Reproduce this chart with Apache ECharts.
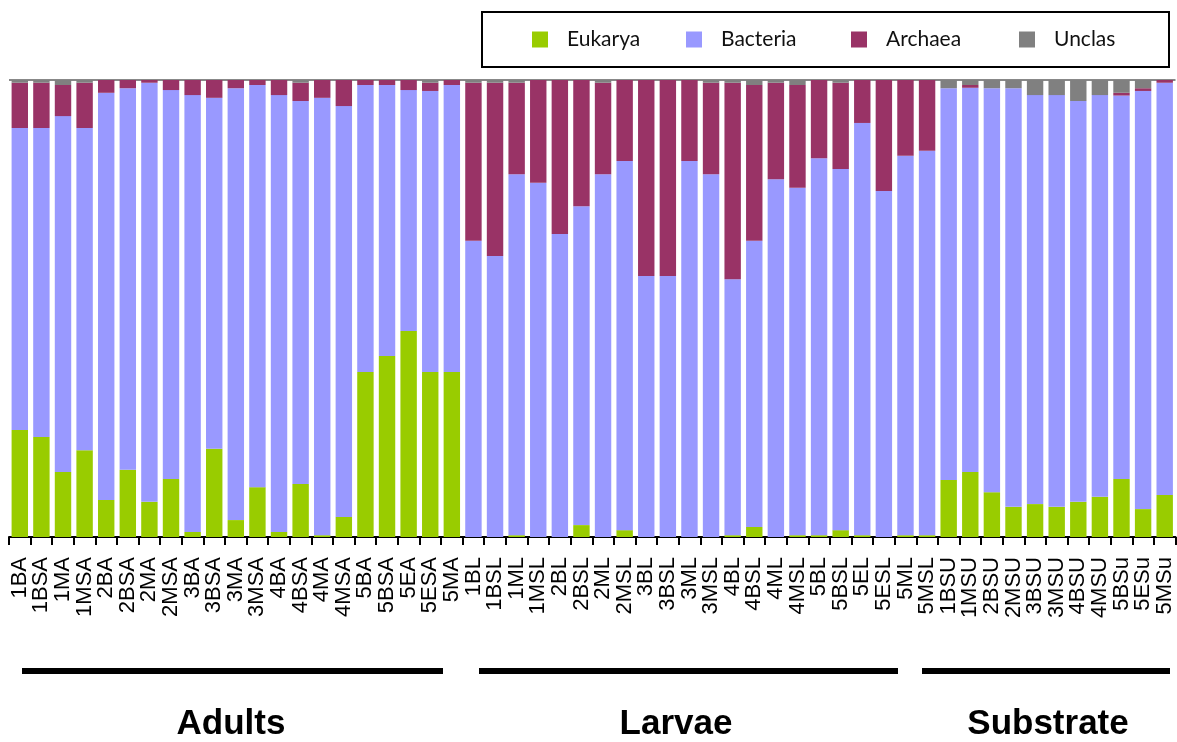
<!DOCTYPE html>
<html>
<head>
<meta charset="utf-8">
<title>Eukarya / Bacteria / Archaea composition</title>
<script src="https://cdn.jsdelivr.net/npm/echarts@6/dist/echarts.min.js"></script>
<style>
  html, body { margin: 0; padding: 0; background: #fff; }
  #chart { width: 1177px; height: 742px; }
</style>
</head>
<body>
<div id="chart"></div>
<script>
// Sample names, grouped as Adults (21), Larvae (22) and Substrate (11)
const categories = ['1BA','1BSA','1MA','1MSA','2BA','2BSA','2MA','2MSA','3BA','3BSA','3MA','3MSA','4BA','4BSA','4MA','4MSA','5BA','5BSA','5EA','5ESA','5MA',
  '1BL','1BSL','1ML','1MSL','2BL','2BSL','2ML','2MSL','3BL','3BSL','3ML','3MSL','4BL','4BSL','4ML','4MSL','5BL','5BSL','5EL','5ESL','5ML','5MSL',
  '1BSU','1MSU','2BSU','2MSU','3BSU','3MSU','4BSU','4MSU','5BSu','5ESu','5MSu'];

// Relative abundance (%) per domain
const eukarya = [23.4,21.9,14.2,19.0,8.1,14.7,7.7,12.7,1.1,19.3,3.7,10.9,1.1,11.6,0.4,4.4,36.1,39.6,45.1,36.1,36.1,
  0,0,0.4,0,0,2.6,0,1.5,0,0,0,0,0.4,2.2,0,0.4,0.4,1.5,0.4,0,0.4,0.4,
  12.5,14.2,9.8,6.6,7.2,6.6,7.7,8.8,12.7,6.1,9.2];
const bacteria = [66.1,67.6,77.9,70.5,89.1,83.5,91.7,85.1,95.6,76.8,94.5,88.0,95.6,83.8,95.7,89.9,62.8,59.3,52.7,61.5,62.8,
  64.8,61.5,79.0,77.5,66.3,69.8,79.4,80.8,57.1,57.1,82.3,79.4,56.0,62.6,78.3,76.0,82.5,79.0,90.2,75.7,83.0,84.1,
  85.7,84.1,88.4,91.6,89.5,90.1,87.7,87.9,83.9,91.5,90.2];
const archaea = [9.9,9.9,6.8,9.9,2.8,1.8,0.6,2.2,3.3,3.9,1.8,1.1,3.3,4.0,3.9,5.7,1.1,1.1,2.2,1.8,1.1,
  34.6,37.9,20.0,22.5,33.7,27.6,20.0,17.7,42.9,42.9,17.7,20.0,43.0,34.1,21.1,22.5,17.1,18.9,9.4,24.3,16.6,15.5,
  0,0.6,0,0,0,0,0,0,0.6,0.6,0.6];
const unclas = [0.6,0.6,1.1,0.6,0,0,0,0,0,0,0,0,0,0.6,0,0,0,0,0,0.6,0,
  0.6,0.6,0.6,0,0,0,0.6,0,0,0,0,0.6,0.6,1.1,0.6,1.1,0,0.6,0,0,0,0,
  1.8,1.1,1.8,1.8,3.3,3.3,4.6,3.3,2.8,1.8,0];

const groupNames = ['Adults', 'Larvae', 'Substrate'];

const colors = { Eukarya: '#99CC00', Bacteria: '#9999FF', Archaea: '#993366', Unclas: '#808080' };

function stackSeries(name, values) {
  return {
    name: name,
    type: 'bar',
    stack: 'domain',
    data: values,
    barCategoryGap: '24%',
    itemStyle: { color: colors[name] },
    emphasis: { disabled: true }
  };
}

const chart = echarts.init(document.getElementById('chart'), null, { renderer: 'canvas' });

// group brackets under the axis labels
const brackets = [
  { x1: 22, x2: 443, cx: 231 },
  { x1: 479, x2: 898, cx: 676 },
  { x1: 922, x2: 1170, cx: 1048 }
];
const graphics = [];
brackets.forEach(function (b, i) {
  graphics.push({
    type: 'line', silent: true,
    shape: { x1: b.x1, y1: 671, x2: b.x2, y2: 671 },
    style: { stroke: '#000', lineWidth: 6 }
  });
  graphics.push({
    type: 'text', silent: true,
    x: b.cx, y: 724,
    style: {
      text: groupNames[i], fill: '#000',
      font: 'bold 35px "Liberation Sans", Arial, sans-serif',
      textAlign: 'center', textVerticalAlign: 'middle'
    }
  });
});

const legendFont = { fontFamily: 'Lato, sans-serif', fontSize: 21, color: '#111' };

chart.setOption({
  animation: false,
  backgroundColor: '#fff',
  grid: { left: 9, right: 1.5, top: 80, bottom: 205, containLabel: false },
  legend: {
    data: ['Eukarya', 'Bacteria', 'Archaea', 'Unclas'],
    left: 482, top: 12,
    width: 690,
    padding: [17, 51, 17, 50],
    itemGap: 0,
    itemWidth: 16, itemHeight: 16,
    icon: 'rect',
    borderColor: '#000', borderWidth: 2,
    selectedMode: false,
    formatter: function (name) { return '{' + name.charAt(0).toLowerCase() + '|' + name + '}'; },
    textStyle: Object.assign({
      lineHeight: 20,
      padding: [0, 0, 0, 14],
      rich: {
        e: Object.assign({ width: 119 }, legendFont),
        b: Object.assign({ width: 130 }, legendFont),
        a: Object.assign({ width: 133 }, legendFont),
        u: Object.assign({ width: 64 }, legendFont)
      }
    }, legendFont)
  },
  xAxis: {
    type: 'category',
    data: categories,
    axisLine: { lineStyle: { color: '#000', width: 2 } },
    axisTick: { show: true, length: 8, lineStyle: { color: '#000', width: 2 } },
    axisLabel: {
      rotate: 90, interval: 0, margin: 20,
      fontFamily: '"Liberation Sans", Arial, sans-serif', fontSize: 22, color: '#000'
    }
  },
  yAxis: {
    type: 'value', min: 0, max: 100, interval: 100,
    axisLine: { show: false }, axisTick: { show: false }, axisLabel: { show: false },
    splitLine: { show: true, lineStyle: { color: '#888', width: 2 } }
  },
  series: [
    stackSeries('Eukarya', eukarya),
    stackSeries('Bacteria', bacteria),
    stackSeries('Archaea', archaea),
    stackSeries('Unclas', unclas)
  ],
  graphic: graphics
});
</script>
</body>
</html>
